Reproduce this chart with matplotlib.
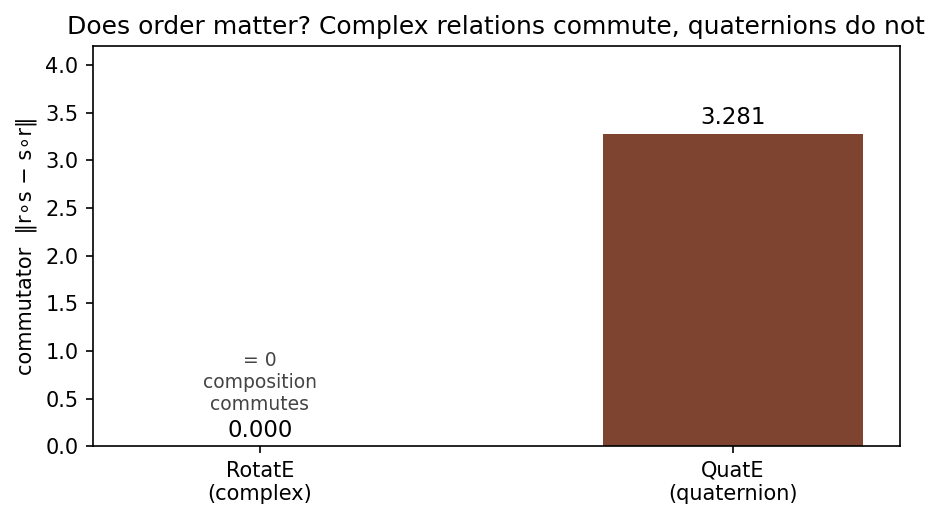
import matplotlib
matplotlib.use('Agg')
import matplotlib.pyplot as plt

models = ['RotatE\n(complex)', 'QuatE\n(quaternion)']
commutator = [0.0, 3.281]
bar_colours = ['#4c72b0', '#7f4430']

fig, ax = plt.subplots(figsize=(940 / 150, 520 / 150), dpi=150)
fig.subplots_adjust(left=0.099, right=0.957, top=0.9115, bottom=0.142)

bars = ax.bar(models, commutator, width=0.55, color=bar_colours)
ax.bar_label(bars, fmt='%.3f', padding=2, fontsize=11)
ax.text(0, 0.34, '= 0\ncomposition\ncommutes', ha='center', va='bottom',
        fontsize=9, color='#444444')

ax.set_ylim(0, max(commutator) * 1.28)
ax.set_ylabel('commutator  \u2016r\u2218s \u2212 s\u2218r\u2016')
ax.set_title('Does order matter? Complex relations commute, quaternions do not')

fig.savefig('out.png', dpi=150)
